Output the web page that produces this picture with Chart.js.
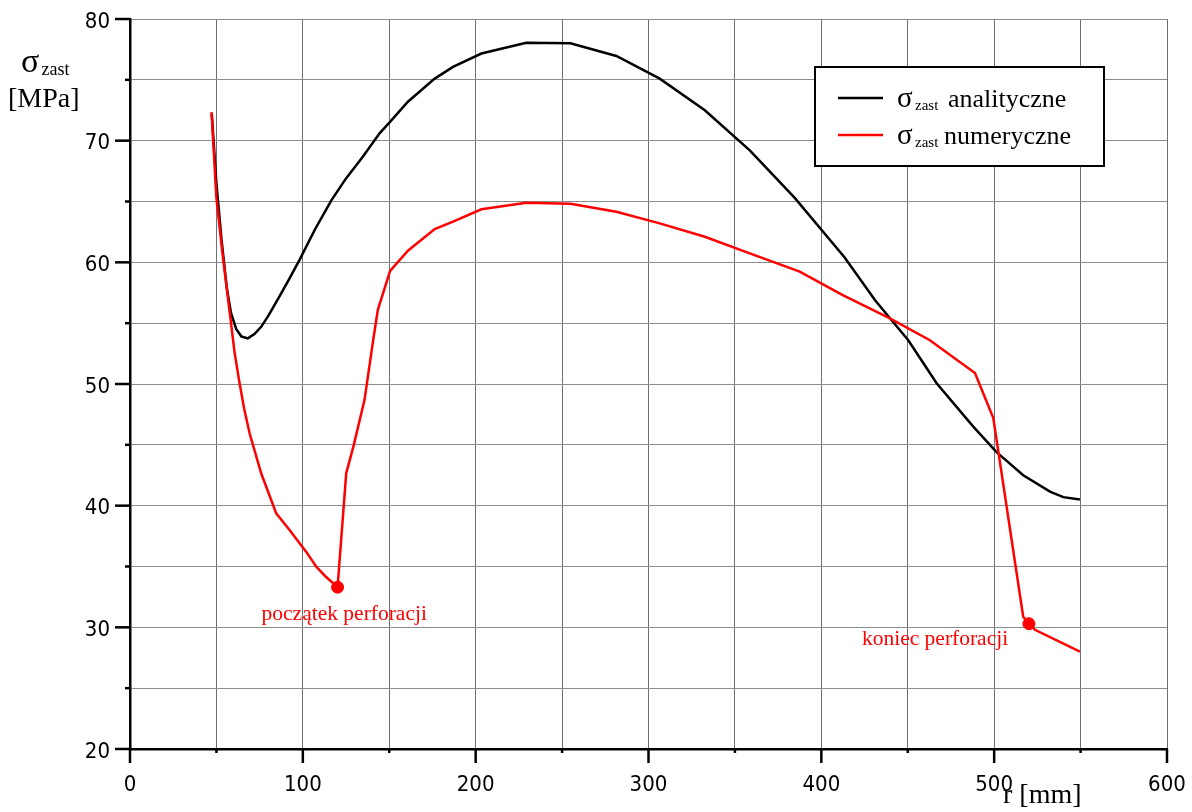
<!DOCTYPE html>
<html>
<head>
<meta charset="utf-8">
<script src="https://cdn.jsdelivr.net/npm/chart.js@4/dist/chart.umd.min.js"></script>
<style>
html,body{margin:0;padding:0;background:#fff;}
#wrap{width:1192px;height:812px;}
</style>
</head>
<body>
<div id="wrap"><canvas id="c" width="1192" height="812"></canvas></div>
<script>
// ---- data ----
const rAna = [47.3, 50, 53, 56, 58.5, 61.5, 64.5, 68.2, 72, 75.9, 80, 86.5, 92, 98.1, 107, 116.5, 125, 134.8, 144.4, 150.2, 160.8, 176.3, 186.9, 203.3, 229.3, 254.8, 281.4, 306.5, 332.6, 358.6, 384.6, 413.5, 431, 439.7, 450.3, 466.7, 487.9, 501.4, 516.8, 532.3, 540, 549.6];
const sigmaAna = [72.2, 66.5, 61.8, 57.9, 55.8, 54.5, 53.9, 53.75, 54.1, 54.7, 55.6, 57.2, 58.6, 60.2, 62.7, 65.1, 66.9, 68.7, 70.6, 71.5, 73.2, 75.1, 76.06, 77.16, 78.05, 78.0, 76.96, 75.1, 72.5, 69.2, 65.3, 60.4, 56.9, 55.4, 53.6, 50.06, 46.5, 44.4, 42.5, 41.15, 40.7, 40.5];

const rNum = [47.2, 50, 53.7, 57.6, 60.5, 63.4, 66, 69.2, 75.9, 84.6, 92.3, 102, 107.8, 113, 120.1, 125.1, 129.5, 135.7, 140.8, 143.4, 150.5, 160.8, 176.3, 186.9, 203.3, 229.3, 254.8, 281.4, 306.5, 332.6, 358.6, 387.5, 412.4, 439.7, 462.8, 488.9, 499.5, 516.8, 520.1, 523.6, 549.6];
const sigmaNum = [72.35, 65.3, 60.5, 56.0, 52.6, 50.06, 48.0, 45.95, 42.66, 39.37, 38.0, 36.2, 34.98, 34.2, 33.3, 42.66, 45.0, 48.7, 53.7, 56.1, 59.3, 60.96, 62.74, 63.34, 64.36, 64.9, 64.82, 64.16, 63.2, 62.1, 60.74, 59.23, 57.3, 55.4, 53.6, 50.9, 47.2, 30.87, 30.3, 29.8, 28.0];

const markerR = [120.1, 520.1];
const markerSigma = [33.3, 30.3];
const markerLabels = ['początek perforacji', 'koniec perforacji'];

const seriesNames = ['analityczne', 'numeryczne'];
const xTickLabels = [0, 100, 200, 300, 400, 500, 600];
const yTickLabels = [20, 30, 40, 50, 60, 70, 80];

const toXY = (xs, ys) => xs.map((x, i) => ({x: x, y: ys[i]}));

const TICKFONT = "'DejaVu Sans Condensed', 'DejaVu Sans', sans-serif";
const SERIF = "'Liberation Serif', 'Times New Roman', serif";

const decor = {
  id: 'decor',
  afterDraw(chart) {
    const ctx = chart.ctx;
    const xs = chart.scales.x, ys = chart.scales.y;
    const area = chart.chartArea;
    ctx.save();
    // tick marks
    ctx.strokeStyle = '#000';
    ctx.lineCap = 'butt';
    xs.ticks.forEach(t => {
      const px = xs.getPixelForValue(t.value);
      const major = xTickLabels.includes(t.value);
      ctx.lineWidth = 2.5;
      ctx.beginPath();
      ctx.moveTo(px, area.bottom);
      ctx.lineTo(px, area.bottom + (major ? 14 : 4));
      ctx.stroke();
    });
    ys.ticks.forEach(t => {
      const py = ys.getPixelForValue(t.value);
      const major = yTickLabels.includes(t.value);
      ctx.lineWidth = 2.5;
      ctx.beginPath();
      ctx.moveTo(area.left, py);
      ctx.lineTo(area.left - (major ? 15 : 5), py);
      ctx.stroke();
    });
    // y axis title
    ctx.fillStyle = '#000';
    ctx.textBaseline = 'alphabetic';
    ctx.textAlign = 'left';
    ctx.font = '34px ' + SERIF;
    ctx.fillText('σ', 21, 72);
    ctx.font = '18px ' + SERIF;
    ctx.fillText('zast', 41.5, 75);
    ctx.font = '28px ' + SERIF;
    ctx.fillText('[MPa]', 8, 107);
    // x axis title
    ctx.font = '28px ' + SERIF;
    ctx.fillText('r [mm]', area.right - 164, 803);

    // legend
    const lx = area.right - 352, ly = 67, lw = 289, lh = 99;
    ctx.fillStyle = '#fff';
    ctx.fillRect(lx, ly, lw, lh);
    ctx.strokeStyle = '#000';
    ctx.lineWidth = 2;
    ctx.strokeRect(lx, ly, lw, lh);
    const legendDs = [chart.data.datasets[2], chart.data.datasets[1]];
    legendDs.forEach((ds, i) => {
      const yy = ly + 31 + i * 37;
      ctx.strokeStyle = ds.borderColor;
      ctx.lineWidth = 2.5;
      ctx.beginPath();
      ctx.moveTo(lx + 23, yy);
      ctx.lineTo(lx + 68, yy);
      ctx.stroke();
      ctx.fillStyle = '#000';
      ctx.font = '29px ' + SERIF;
      ctx.fillText('σ', lx + 82, yy + 9);
      ctx.font = '15px ' + SERIF;
      ctx.fillText('zast', lx + 100, yy + 12);
      ctx.font = '26px ' + SERIF;
      ctx.fillText(seriesNames[i], lx + (i === 0 ? 133 : 129), yy + 9);
    });

    // annotations near markers
    ctx.fillStyle = '#ff0000';
    ctx.font = '21.5px ' + SERIF;
    const offs = [[-76, 33], [-167, 21]];
    markerLabels.forEach((txt, i) => {
      const px = xs.getPixelForValue(markerR[i]);
      const py = ys.getPixelForValue(markerSigma[i]);
      ctx.fillText(txt, px + offs[i][0], py + offs[i][1]);
    });
    ctx.restore();
  }
};

new Chart(document.getElementById('c'), {
  type: 'line',
  data: {
    datasets: [
      {
        label: 'markers',
        data: toXY(markerR, markerSigma),
        showLine: false,
        pointRadius: 6,
        pointBackgroundColor: '#ff0000',
        pointBorderColor: '#ff0000',
        borderColor: '#ff0000'
      },
      {
        label: 'σzast numeryczne',
        data: toXY(rNum, sigmaNum),
        borderColor: '#ff0000',
        borderWidth: 2.5,
        pointRadius: 0,
        tension: 0,
        fill: false
      },
      {
        label: 'σzast analityczne',
        data: toXY(rAna, sigmaAna),
        borderColor: '#000000',
        borderWidth: 2.5,
        pointRadius: 0,
        tension: 0,
        fill: false
      }
    ]
  },
  options: {
    responsive: false,
    animation: false,
    events: [],
    layout: {autoPadding: false, padding: {top: 19, right: 25, left: 0, bottom: 0}},
    plugins: {legend: {display: false}, title: {display: false}, tooltip: {enabled: false}},
    scales: {
      x: {
        type: 'linear',
        min: 0, max: 600,
        afterFit(s) { s.height = 63; s.paddingLeft = 0; s.paddingRight = 0; },
        grid: {color: '#707070', lineWidth: 1, drawTicks: false},
        border: {display: true, color: '#000', width: 2.5},
        ticks: {
          stepSize: 50, autoSkip: false, maxRotation: 0, padding: 23,
          color: '#000', font: {family: TICKFONT, size: 22},
          callback: v => xTickLabels.includes(v) ? String(v) : ''
        }
      },
      y: {
        type: 'linear',
        min: 20, max: 80,
        afterFit(s) { s.width = 130; s.paddingTop = 0; s.paddingBottom = 0; },
        grid: {color: '#8c8c8c', lineWidth: 1, drawTicks: false},
        border: {display: true, color: '#000', width: 2.5},
        ticks: {
          stepSize: 5, autoSkip: false, padding: 20, labelOffset: 3,
          color: '#000', font: {family: TICKFONT, size: 22},
          callback: v => yTickLabels.includes(v) ? String(v) : ''
        }
      }
    }
  },
  plugins: [decor]
});
</script>
</body>
</html>
